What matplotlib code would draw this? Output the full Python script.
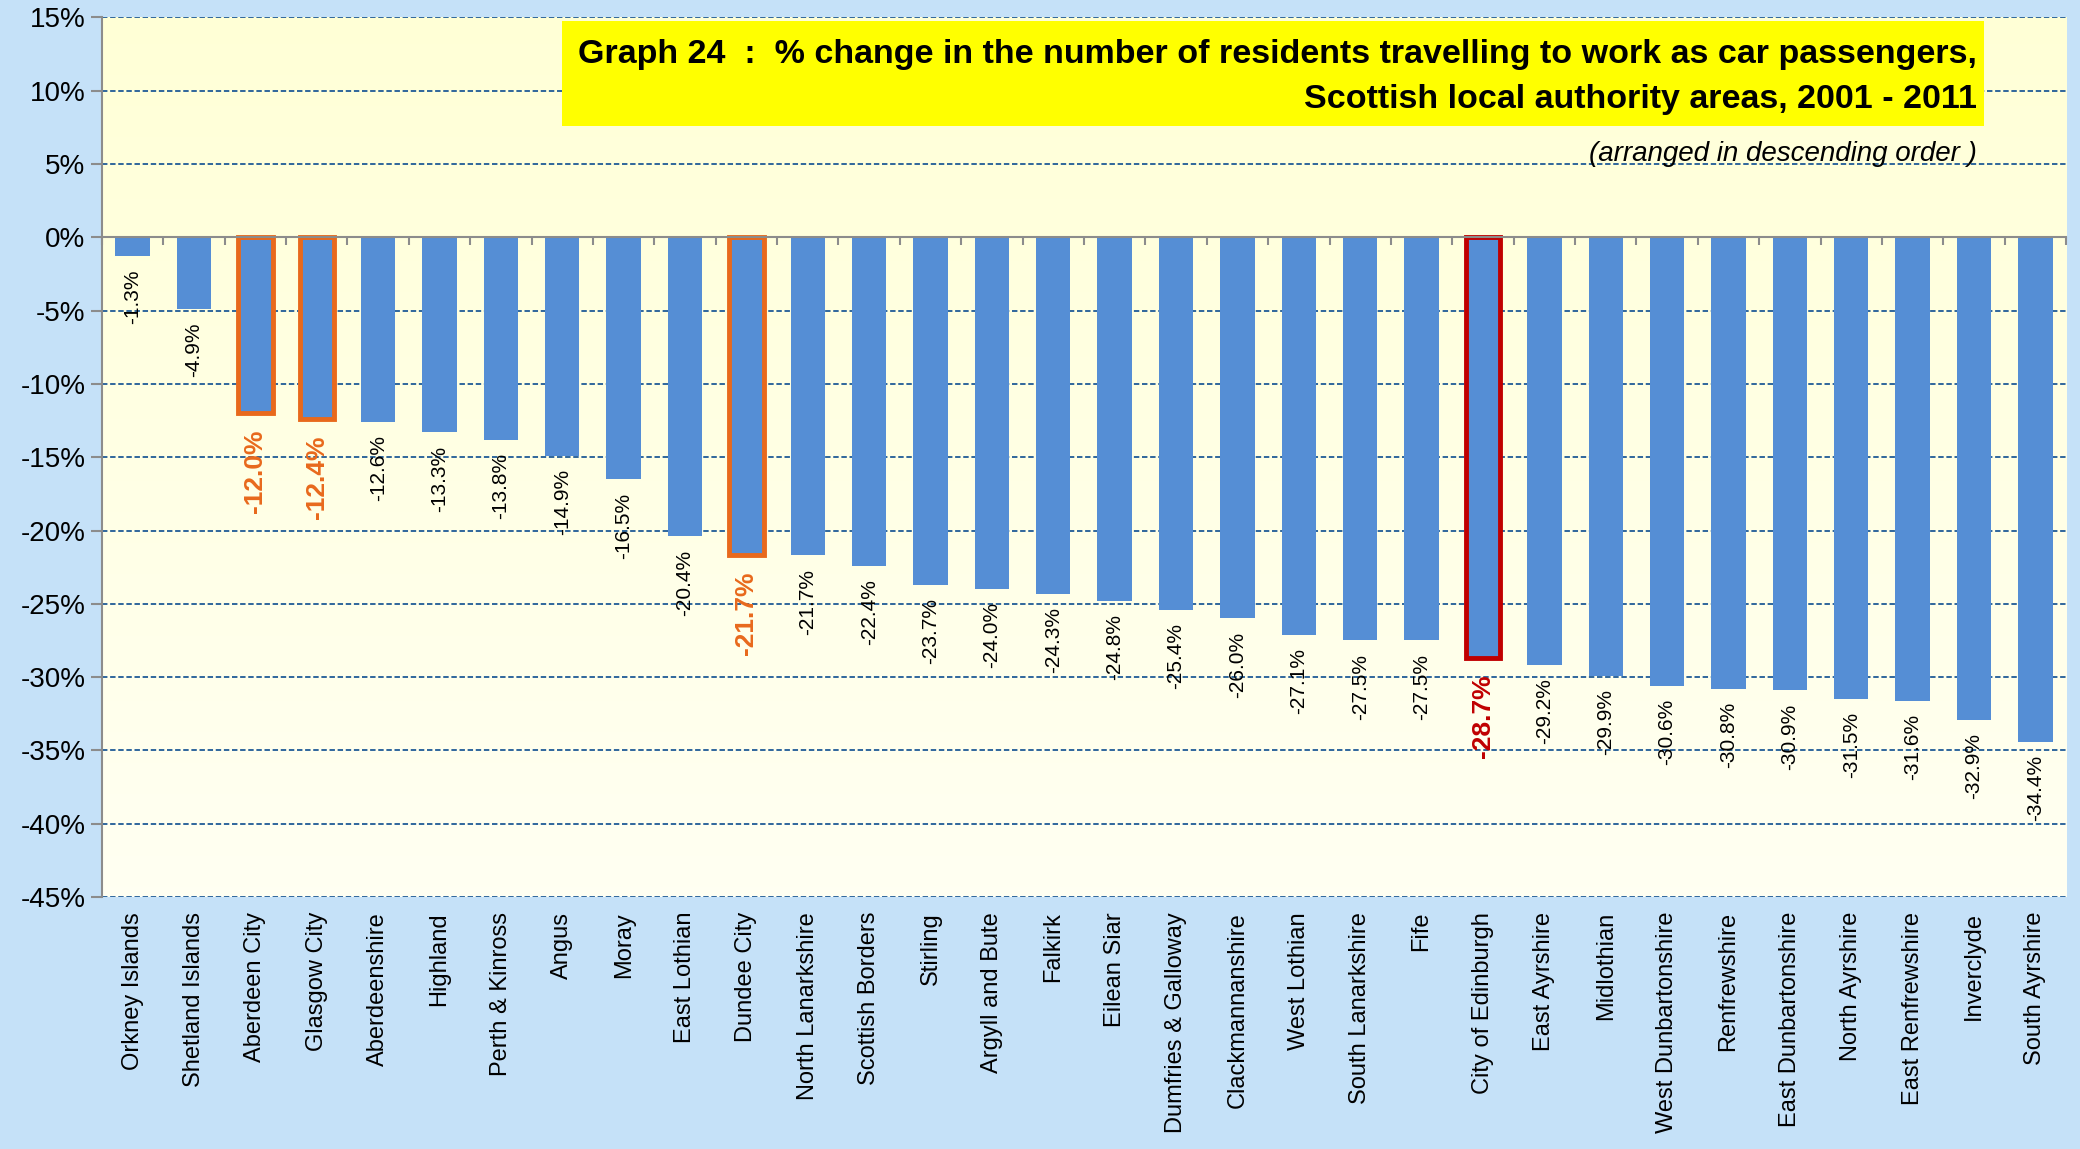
import numpy as np
import matplotlib
matplotlib.use("Agg")
import matplotlib.pyplot as plt
from matplotlib.patches import Rectangle
from matplotlib.transforms import blended_transform_factory

plt.rcParams['font.family'] = ['Liberation Sans', 'DejaVu Sans']

areas = ["Orkney Islands", "Shetland Islands", "Aberdeen City", "Glasgow City",
         "Aberdeenshire", "Highland", "Perth & Kinross", "Angus", "Moray",
         "East Lothian", "Dundee City", "North Lanarkshire", "Scottish Borders",
         "Stirling", "Argyll and Bute", "Falkirk", "Eilean Siar",
         "Dumfries & Galloway", "Clackmannanshire", "West Lothian",
         "South Lanarkshire", "Fife", "City of Edinburgh", "East Ayrshire",
         "Midlothian", "West Dunbartonshire", "Renfrewshire",
         "East Dunbartonshire", "North Ayrshire", "East Renfrewshire",
         "Inverclyde", "South Ayrshire"]
change = [-1.3, -4.9, -12.0, -12.4, -12.6, -13.3, -13.8, -14.9, -16.5, -20.4,
          -21.7, -21.7, -22.4, -23.7, -24.0, -24.3, -24.8, -25.4, -26.0, -27.1,
          -27.5, -27.5, -28.7, -29.2, -29.9, -30.6, -30.8, -30.9, -31.5, -31.6,
          -32.9, -34.4]
orange_areas = ["Aberdeen City", "Glasgow City", "Dundee City"]
red_areas = ["City of Edinburgh"]
yticks = list(range(15, -50, -5))

BG = "#C5E1F8"
BAR = "#558ED5"
ORANGE = "#E8691C"
RED = "#C00000"
GRID = "#1F5A96"

fig = plt.figure(figsize=(20.8, 11.49), dpi=100, facecolor=BG)
ax = fig.add_axes([0.049, 0.2193, 0.9443, 0.7655])

# gradient plot area
grad = np.linspace(0, 1, 256).reshape(-1, 1)
c_top = np.array([1.0, 1.0, 0.84])
c_bot = np.array([1.0, 1.0, 0.95])
img = c_top + (c_bot - c_top) * grad[:, :, None] * np.ones((1, 2, 1))
ax.imshow(img, extent=[0, 1, 0, 1], transform=ax.transAxes, aspect='auto', zorder=0)

x = np.arange(len(areas))
ax.set_xlim(-0.5, len(areas) - 0.5)
ax.set_ylim(-45, 15)

for yv in yticks:
    ax.axhline(yv, color=GRID, lw=1.3, ls=(0, (3, 1.5)), zorder=1)

for i, (name, v) in enumerate(zip(areas, change)):
    if name in orange_areas:
        ec, lw, col, fs, fw = ORANGE, 3.5, ORANGE, 19, 'bold'
    elif name in red_areas:
        ec, lw, col, fs, fw = RED, 3.5, RED, 19, 'bold'
    else:
        ec, lw, col, fs, fw = 'none', 0, 'black', 15, 'normal'
    ax.bar(i, v, width=0.56, color=BAR, edgecolor=ec, linewidth=lw, zorder=3)
    off = 0.9 if lw == 0 else 1.1
    ax.text(i, v - off, f"{v:.1f}%", rotation=90, ha='center', va='top',
            fontsize=fs, color=col, fontweight=fw, zorder=4)

# axes styling
for s in ['top', 'right']:
    ax.spines[s].set_visible(False)
ax.spines['left'].set_color('#8C8C8C')
ax.spines['left'].set_linewidth(1.5)
ax.spines['bottom'].set_position(('data', 0))
ax.spines['bottom'].set_color('#8C8C8C')
ax.spines['bottom'].set_linewidth(1.5)
ax.spines['bottom'].set_zorder(5)

ax.set_yticks(yticks)
ax.set_yticklabels([f"{t}%" for t in yticks], fontsize=20)
ax.tick_params(axis='y', length=8, width=1.5, color='#8C8C8C', pad=4)
ax.set_xticks(np.arange(len(areas) + 1) - 0.5)
ax.set_xticklabels([])
ax.tick_params(axis='x', length=6, width=1.5, color='#8C8C8C', direction='out')

tr = blended_transform_factory(ax.transData, ax.transAxes)
for i, name in enumerate(areas):
    ax.text(i, -0.017, name, rotation=90, ha='center', va='top',
            fontsize=17, transform=tr)

# title box
fig.patches.append(Rectangle((0.270, 0.890), 0.684, 0.092, transform=fig.transFigure,
                             facecolor='#FFFF00', edgecolor='none', zorder=5))
fig.text(0.9505, 0.953, "Graph 24  :  % change in the number of residents travelling to work as car passengers,",
         ha='right', va='center', fontsize=24.5, fontweight='bold', zorder=6)
fig.text(0.9505, 0.913, "Scottish local authority areas, 2001 - 2011",
         ha='right', va='center', fontsize=24.5, fontweight='bold', zorder=6)
fig.text(0.9505, 0.866, "(arranged in descending order )", ha='right', va='center',
         fontsize=20, style='italic', zorder=6)

fig.savefig("out.png", dpi=100, facecolor=BG)
